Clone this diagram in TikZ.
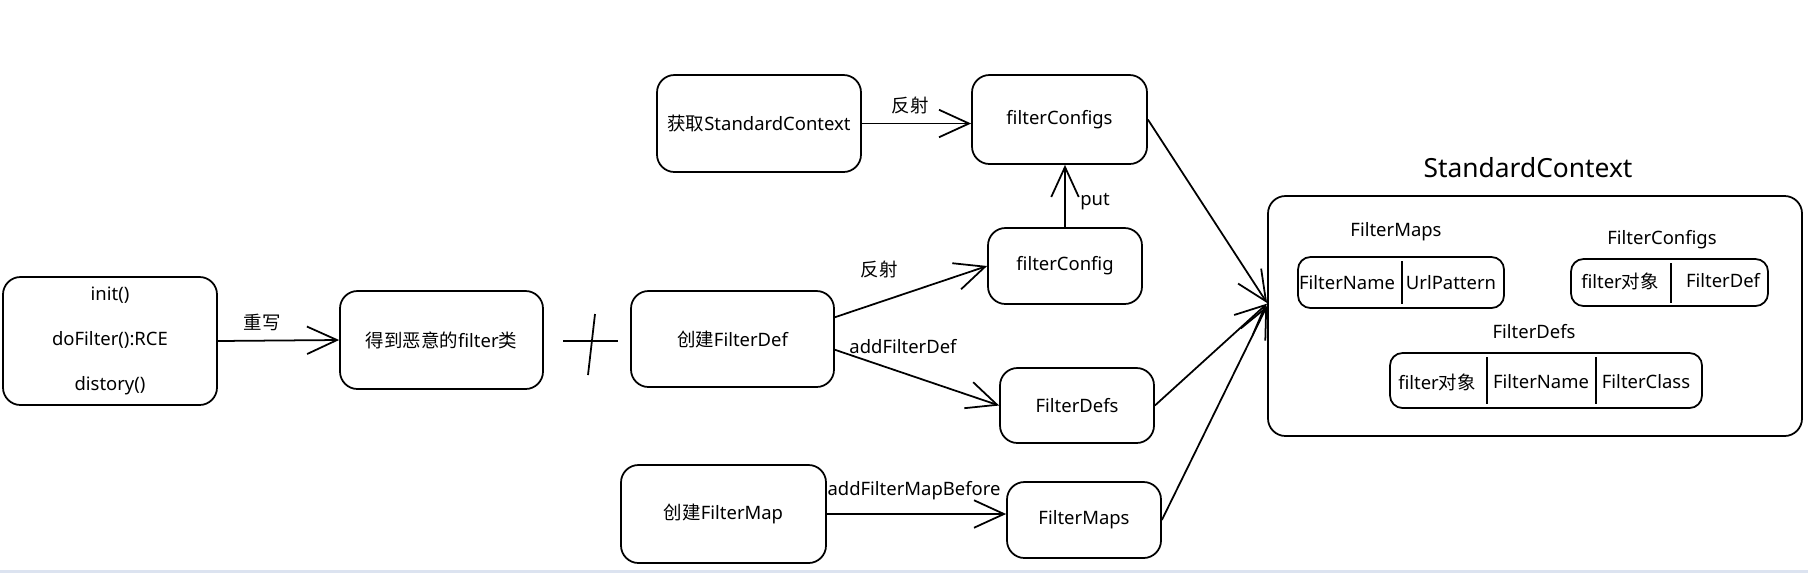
\documentclass[tikz,border=0pt]{standalone}
\usepackage{fontspec}
\setmainfont{Noto Sans}
\newfontfamily\cjk{Noto Sans CJK SC}
\usetikzlibrary{arrows.meta}
\definecolor{stripblue}{HTML}{DCE3F0}

\begin{document}
\begin{tikzpicture}[scale=0.2]
    \tikzstyle{every node}+=[inner sep=0pt, font=\fontsize{10.5}{12}\selectfont]
    \tikzstyle{box}=[draw=black, line width=1pt, rounded corners=3.5mm]
    \tikzstyle{cellbox}=[draw=black, line width=1pt, rounded corners=2.5mm]
    \tikzstyle{link}=[draw=black, line width=1pt, -{Straight Barb[length=6mm,width=5.5mm]}]
    \useasboundingbox (0,0) rectangle (180.8,-57.3);
    \fill [stripblue] (0,-57.0) rectangle (180.8,-57.3);
    \node [box, minimum width=4.28cm, minimum height=2.56cm, align=center, font=\fontsize{10.5}{25.6}\selectfont] (init) at (11.0,-34.1) {init()\\doFilter():RCE\\distory()};
    \node [box, minimum width=4.06cm, minimum height=1.96cm] (evil) at (44.15,-34.0) {{\cjk 得到恶意的}filter{\cjk 类}};
    \node [box, minimum width=4.06cm, minimum height=1.92cm] (mkdef) at (73.25,-33.9) {{\cjk 创建}FilterDef};
    \node [box, minimum width=4.08cm, minimum height=1.94cm] (getctx) at (75.9,-12.35) {{\cjk 获取}StandardContext};
    \node [box, minimum width=3.5cm, minimum height=1.78cm] (cfgs) at (105.95,-11.95) {filterConfigs};
    \node [box, minimum width=3.08cm, minimum height=1.52cm] (cfg) at (106.5,-26.6) {filterConfig};
    \node [box, minimum width=3.08cm, minimum height=1.5cm] (defs) at (107.7,-40.55) {FilterDefs};
    \node [box, minimum width=4.1cm, minimum height=1.96cm] (mkmap) at (72.35,-51.4) {{\cjk 创建}FilterMap};
    \node [box, minimum width=3.08cm, minimum height=1.52cm] (maps) at (108.4,-52.0) {FilterMaps};
    \node [box, minimum width=10.68cm, minimum height=4.8cm] (ctx) at (153.5,-31.6) {};
    \node [font=\fontsize{15}{18}\selectfont] (ctxtitle) at (152.8,-16.8) {StandardContext};
    % cross mark
    \draw [black, line width=1pt] (56.3,-34.1) -- (61.8,-34.1);
    \draw [black, line width=1pt] (59.5,-31.4) -- (58.8,-37.5);
    % connectors
    \draw [link] (init.east) -- (evil.west);
    \node (rewrite) at (26.2,-32.2) {{\cjk 重写}};
    \draw [link] (getctx.east) -- (getctx.east -| cfgs.west);
    \node (refl1) at (91.0,-10.5) {{\cjk 反射}};
    \draw [link] (cfg.north) -- (cfg.north |- cfgs.south);
    \node (put) at (109.5,-20.2) {put};
    \draw [link] (mkdef.12) -- (cfg.west);
    \node (refl2) at (87.9,-26.9) {{\cjk 反射}};
    \draw [link] (mkdef.-6) -- (defs.west);
    \node (adddef) at (90.3,-34.7) {addFilterDef};
    \draw [link] (mkmap.east) -- (mkmap.east -| maps.west);
    \node (addmap) at (91.4,-49.1) {addFilterMapBefore};
    \draw [link] (cfgs.east) -- ([yshift=1.3cm]ctx.west);
    \draw [link] (defs.east) -- ([yshift=1.24cm]ctx.west);
    \draw [link] (maps.east) -- ([yshift=1.02cm]ctx.west);
    % inside StandardContext
    \node (mapslbl) at (139.6,-23.2) {FilterMaps};
    \node [cellbox, minimum width=4.12cm, minimum height=1.02cm] (mtab) at (140.1,-28.25) {};
    \draw [black, line width=1pt] (140.2,-26.1) -- (140.2,-30.4);
    \node (mname) at (134.7,-28.3) {FilterName};
    \node (murl) at (145.1,-28.3) {UrlPattern};
    \node (cfgslbl) at (166.2,-24.0) {FilterConfigs};
    \node [cellbox, minimum width=3.94cm, minimum height=0.94cm] (ctab) at (166.95,-28.25) {};
    \draw [black, line width=1pt] (167.1,-26.3) -- (167.1,-30.3);
    \node (cobj) at (162.0,-28.1) {filter{\cjk 对象}};
    \node (cdef) at (172.3,-28.1) {FilterDef};
    \node (defslbl) at (153.4,-33.2) {FilterDefs};
    \node [cellbox, minimum width=6.24cm, minimum height=1.1cm] (dtab) at (154.6,-38.05) {};
    \draw [black, line width=1pt] (148.7,-35.7) -- (148.7,-40.4);
    \draw [black, line width=1pt] (159.6,-35.7) -- (159.6,-40.4);
    \node (dobj) at (143.7,-38.2) {filter{\cjk 对象}};
    \node (dname) at (154.1,-38.2) {FilterName};
    \node (dclass) at (164.6,-38.2) {FilterClass};
\end{tikzpicture}
\end{document}
